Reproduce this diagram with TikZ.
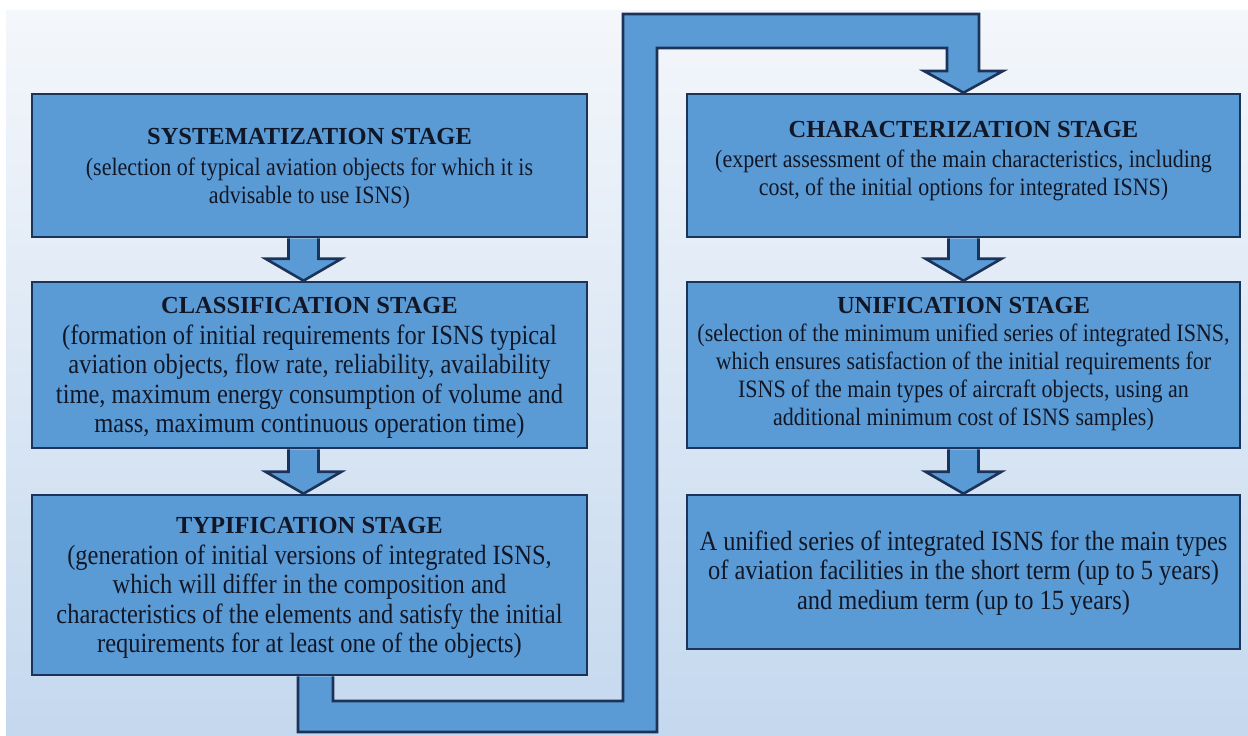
\documentclass[tikz,border=0pt]{standalone}
\usepackage{fontspec}
\setmainfont{Liberation Serif}
\newfontfamily\condserif[FakeStretch=0.88]{Liberation Serif}
\usetikzlibrary{calc}
\pgfdeclarelayer{back}
\pgfdeclarelayer{bg}
\pgfsetlayers{back,bg,main}
\definecolor{boxblue}{HTML}{5B9BD5}
\definecolor{boxline}{HTML}{1B3358}
\definecolor{txtcol}{HTML}{111726}
\definecolor{bgtop}{HTML}{F4F7FB}
\definecolor{bgbot}{HTML}{C4D8EE}
\newcommand{\stagetitle}[1]{{\fontsize{24.5}{29}\selectfont\rmfamily\bfseries #1}}
\newcommand{\blockarrow}[3]{%
  \draw[blockconn] ($(#1.south)+(#3-15,0)$) -- ($(#2.north)+(#3-15,-22)$)
    -- ($(#2.north)+(#3-38,-22)$) -- ($(#2.north)+(#3,0)$)
    -- ($(#2.north)+(#3+38,-22)$) -- ($(#2.north)+(#3+15,-22)$)
    -- ($(#1.south)+(#3+15,0)$);%
}
\begin{document}
\begin{tikzpicture}[x=1pt,y=-1pt,
  stagebox/.style={draw=boxline, fill=boxblue, line width=2.6pt, rectangle, inner sep=0pt},
  stagetext/.style={text=txtcol, align=center, inner sep=0pt, font=\condserif\fontsize{25}{28}\selectfont},
  stagetextlarge/.style={text=txtcol, align=center, inner sep=0pt, font=\condserif\fontsize{27.8}{29.5}\selectfont},
  blockconn/.style={draw=boxline, fill=boxblue, line width=2.6pt, line join=miter}]
\useasboundingbox (0,0) rectangle (1248,736);

% boxes
\node[stagebox, minimum width=555, minimum height=143] (b1) at (309.5,165.5) {};
\node[stagebox, minimum width=555, minimum height=166] (b2) at (309.5,365) {};
\node[stagebox, minimum width=555, minimum height=180] (b3) at (309.5,585) {};
\node[stagebox, minimum width=553, minimum height=143] (b4) at (963.5,165.5) {};
\node[stagebox, minimum width=553, minimum height=166] (b5) at (963.5,365) {};
\node[stagebox, minimum width=553, minimum height=154] (b6) at (963.5,572) {};

% texts
\node[stagetext] (t1) at (309.5,169) {\stagetitle{SYSTEMATIZATION STAGE}\\[3pt]
(selection of typical aviation objects for which it is\\
advisable to use ISNS)};
\node[stagetextlarge] (t2) at (309.5,368) {\stagetitle{CLASSIFICATION STAGE}\\[1pt]
(formation of initial requirements for ISNS typical\\
aviation objects, flow rate, reliability, availability\\
time, maximum energy consumption of volume and\\
mass, maximum continuous operation time)};
\node[stagetextlarge] (t3) at (309.5,588) {\stagetitle{TYPIFICATION STAGE}\\[1pt]
(generation of initial versions of integrated ISNS,\\
which will differ in the composition and\\
characteristics of the elements and satisfy the initial\\
requirements for at least one of the objects)};
\node[stagetext] (t4) at (963.5,161) {\stagetitle{CHARACTERIZATION STAGE}\\[2pt]
(expert assessment of the main characteristics, including\\
cost, of the initial options for integrated ISNS)};
\node[stagetext] (t5) at (963.5,364) {\stagetitle{UNIFICATION STAGE}\\
(selection of the minimum unified series of integrated ISNS,\\
which ensures satisfaction of the initial requirements for\\
ISNS of the main types of aircraft objects, using an\\
additional minimum cost of ISNS samples)};
\node[stagetextlarge] (t6) at (963.5,573) {A unified series of integrated ISNS for the main types\\
of aviation facilities in the short term (up to 5 years)\\
and medium term (up to 15 years)};

% arrows between stages
\blockarrow{b1}{b2}{-6}
\blockarrow{b2}{b3}{-6}
\blockarrow{b4}{b5}{0}
\blockarrow{b5}{b6}{0}

% background and big connector
\begin{pgfonlayer}{back}
\shade[top color=bgtop, bottom color=bgbot] (6,10) rectangle (1248,736);
\end{pgfonlayer}
\begin{pgfonlayer}{bg}
\draw[blockconn] ($(b3.south)+(-11.5,0)$) -- (298,732) -- (657,732) -- (657,48)
  -- (947,48) -- (947,71) -- (924,71) -- (b4.north) -- (1003,71) -- (979,71)
  -- (979,14) -- (623,14) -- (623,701) -- (333,701) -- ($(b3.south)+(23.5,0)$);
\end{pgfonlayer}
\end{tikzpicture}
\end{document}
